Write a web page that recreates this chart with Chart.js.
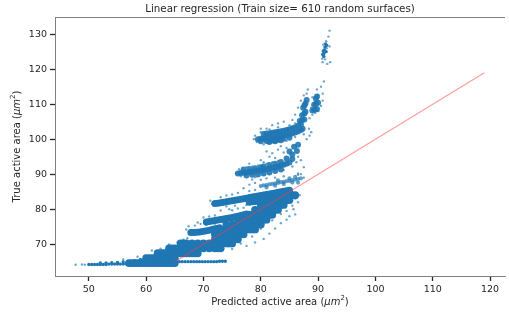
<!DOCTYPE html>
<html>
<head>
<meta charset="utf-8">
<script src="https://cdn.jsdelivr.net/npm/chart.js@4.4.1/dist/chart.umd.min.js"></script>
<style>body{margin:0;background:#fff}canvas{display:block}</style>
</head>
<body>
<canvas id="chart" width="509" height="315"></canvas>
<script>
'use strict';

// axis ranges / ticks
var xRange = [44.1, 122.6]
var yRange = [60.9, 134.9]
var tickStep = 10

// identity line (predicted == true)
var fitLine = [[65, 65], [119, 119]]

// dense main body, rows of [true area, [predicted areas]]
var bodyRows = [
	[64.6, [57, 57.5, 58, 58.5, 59, 59.5, 60, 60.5, 61, 61.5, 62, 62.5, 63, 63.5, 64, 64.5, 65]],
	[66.0, [60, 60.5, 61, 61.5, 62, 62.5, 63, 63.5, 64, 64.5, 65]],
	[67.4, [62, 62.5, 63, 63.5, 64, 64.5, 65, 65.5, 66, 66.5, 67, 67.5, 68, 68.5, 69]],
	[68.8, [64, 64.5, 65, 66, 67, 68, 69, 70, 71, 72, 72.5, 73]],
	[70.2, [66, 66.5, 67, 68, 69, 70, 71, 72, 73, 74, 74.5, 75]],
	[71.4, [72, 73, 74, 75, 75.5, 76]],
	[72.8, [72, 73, 74, 75, 76, 76.5, 77]],
	[74.2, [73, 74, 75, 76, 77, 78, 78.5, 79]],
	[75.6, [74, 75, 76, 77, 78, 79, 79.5, 80]],
	[77.0, [76, 77, 78, 79, 80, 80.5, 81]],
	[78.4, [78, 79, 80, 81, 81.5, 82]],
	[79.8, [79, 80, 81, 82, 82.5, 83]],
	[81.2, [80, 81, 82, 83, 83.5, 84]],
	[82.6, [82, 83, 84, 84.5, 85]],
	[84.0, [84, 84.5, 85, 85.5, 86]]
]

// lower streaks rising to the right (74, 78 and 82 layers)
var lowLayers = [
	[67.8, 73.3], [68.3, 73.35], [68.8, 73.4], [69.3, 73.5], [69.8, 73.6], [70.3, 73.75], [70.8, 73.9], [71.3, 74.1],
	[71.8, 74.3], [72.3, 74.5], [72.8, 74.7],
	[70.5, 76.3], [71, 76.45], [71.5, 76.6], [72, 76.75], [72.5, 76.9], [73, 77.05], [73.5, 77.2], [74, 77.35],
	[74.5, 77.5], [75, 77.65], [75.5, 77.8], [76, 78], [76.5, 78.2], [77, 78.4], [77.5, 78.6],
	[72, 81.6], [72.5, 81.7], [73, 81.8], [73.5, 81.95], [74, 82.1], [74.5, 82.25], [75, 82.4], [75.5, 82.55],
	[76, 82.7], [76.5, 82.85], [77, 83], [77.5, 83.15], [78, 83.3], [78.5, 83.45], [79, 83.6], [79.5, 83.75],
	[80, 83.9], [80.5, 84.05], [81, 84.2], [81.5, 84.35], [82, 84.5], [82.5, 84.65], [83, 84.8], [83.5, 84.95],
	[84, 85.1], [84.5, 85.25], [85, 85.4],
	[78, 82], [78.5, 82.1], [79, 82.2], [79.5, 82.35], [80, 82.5], [80.5, 82.65], [81, 82.8], [81.5, 82.95],
	[82, 83.1], [82.5, 83.25], [83, 83.4], [83.5, 83.55], [84, 83.7], [84.5, 83.85], [85, 84]
]

// fainter 86 streak
var midPoints = [
	[80, 86.6], [80.5, 86.8], [81, 86.9], [81.5, 87.1], [82, 87.2], [82.5, 87.4], [83, 87.5], [83.5, 87.7],
	[84, 87.8], [84.5, 88], [85, 88.1], [85.5, 88.3], [86, 88.4], [86.5, 88.6], [87, 88.8],
	[81, 86.2], [82.5, 86.7], [84, 87.2], [85.5, 87.6], [83, 88.2], [85, 88.8], [86, 89.2], [86.5, 87.6]
]

// upper streaks and clumps (90, 100 layers and the tops)
var highLayers = [
	[76, 90.2], [76.5, 90.3], [77, 90.4], [77.5, 90.5], [78, 90.6], [78.5, 90.7], [79, 90.8], [79.5, 90.95],
	[80, 91.1], [80.5, 91.25], [81, 91.4], [81.5, 91.6], [82, 91.8], [82.5, 92], [83, 92.2], [83.5, 92.45],
	[84, 92.7], [84.5, 93], [85, 93.3],
	[77.5, 89.6], [78.5, 89.8], [79.5, 89.9], [80.5, 90.2], [81.5, 90.5], [82.5, 90.9], [83.5, 91.3],
	[77, 91.3], [78, 91.5], [79, 91.7], [80, 92], [80.5, 92.2], [81.5, 92.6], [82.5, 93], [83.5, 93.5],
	[84.5, 94.5], [85.5, 94.3], [85.5, 95.6], [85, 96.5], [86.3, 96.6], [85.8, 97.8], [86.5, 98.4],
	[79.5, 100], [80, 100.1], [80.5, 100.2], [81, 100.3], [81.5, 100.4], [82, 100.5], [82.5, 100.6], [83, 100.75],
	[83.5, 100.9], [84, 101.05], [84.5, 101.2], [85, 101.4], [85.5, 101.6], [86, 101.9], [86.5, 102.2], [87, 102.6], [87.3, 103],
	[80.5, 101.5], [81, 101.6], [81.5, 101.7], [82, 101.8], [82.5, 101.95], [83, 102.1], [83.5, 102.25], [84, 102.4],
	[84.5, 102.6], [85, 102.8], [85.5, 103.1], [86, 103.4], [86.5, 103.8], [87, 104.2],
	[80, 99.4], [81, 99.5], [81.5, 99.2], [82, 99.6], [82.5, 99.4], [83, 99.8], [83.5, 99.7], [84, 100.1], [85, 100.4],
	[86.8, 105.2], [87.2, 105.4], [87.6, 105.6], [87.2, 106.8], [87.6, 107.3], [87.8, 107.8], [87.4, 109], [87.6, 109.6],
	[87.8, 110.2], [88, 111.2], [89, 108.2], [89.4, 108.4], [89.8, 108.6], [89.3, 109.8], [89.6, 110.1], [90, 110.4],
	[89.6, 111.6], [89.8, 112.2]
]

// thin streaks (tail at the bottom, line at 65, top clump)
var thinPoints = [
	[50, 64.2], [50.5, 64.2], [51, 64.2], [51.5, 64.2], [52, 64.2], [52.5, 64.2], [53, 64.2], [53.5, 64.3],
	[54, 64.3], [54.5, 64.3], [55, 64.3], [55.5, 64.3], [56, 64.3], [56.5, 64.4], [57, 64.4], [57.5, 64.4],
	[52, 64.6], [53, 64.6], [54, 64.7], [55, 64.8], [56, 64.9], [57, 65.0], [58, 65.3], [59, 65.6],
	[65.8, 65.0], [66.3, 65.0], [66.8, 65.0], [67.3, 65.0], [67.8, 65.0], [68.3, 65.0], [68.8, 65.0], [69.3, 65.0],
	[69.8, 65.0], [70.3, 65.0], [70.8, 65.0], [71.3, 65.0], [71.8, 65.0], [72.3, 65.0], [72.8, 65.1], [73.3, 65.1], [73.8, 65.1],
	[91, 123.6], [91, 124.5], [91.1, 125.5], [91.2, 126.3], [91.3, 127.2], [91.4, 125], [90.9, 125.2], [91.5, 126.8], [90.8, 124.2]
]

// loose points around the edges
var loosePoints = [
	[47.7, 64.1], [48.8, 64.2], [49.3, 64.1],
	[56, 65.6], [58.5, 66.4], [61, 68.2], [62.5, 68.7], [64, 69.9], [65.5, 70.5], [66.5, 71.3], [67.2, 71.7],
	[67, 74.2], [67.5, 73.6], [67.4, 75.1], [68.5, 75.3], [69.5, 75.8], [69, 76.2], [70, 77.6], [71, 77.9], [72, 78.2],
	[73, 79.6], [74.5, 80], [75, 79.7], [76, 80.2], [77, 80.4],
	[71.5, 81.5], [71.2, 82.4], [73, 83.4], [74, 83.9], [75, 84.2], [76, 84.6], [78, 85.2], [79, 85.5],
	[77, 86], [78, 87], [79, 87.5], [80, 88.4], [81, 88.8], [78.5, 88.5], [82.5, 89], [84, 89.4], [86.5, 90.2],
	[75.7, 90.2], [76.2, 91.4], [77.5, 92], [78.5, 92.2], [79.5, 92.5], [81, 93], [82, 93.4], [83, 93.8],
	[80, 94], [81.5, 95], [82, 96], [83, 97], [82.5, 94.6], [81, 96.5], [84, 96.2], [84.5, 97.5],
	[78.8, 100], [79, 101], [79.3, 99.2], [80, 102], [81, 103], [82, 104], [83, 104.5], [84, 105],
	[80.5, 98.5], [82.5, 99], [83.5, 98], [81.5, 98.8], [84.5, 99.5],
	[86.5, 95], [87, 94], [87.5, 92], [87, 90], [86.5, 89.8], [87.5, 89], [86.8, 84], [86.5, 82], [85.7, 80],
	[86, 78.5], [85, 78], [84.5, 77], [83.5, 76], [82.5, 74.5], [81.5, 73], [80.5, 71.5], [79, 70.5], [77.5, 69.5],
	[75, 68.6], [76.5, 70.2], [78.5, 72.2], [80, 74.4], [82, 76.8], [83.5, 78.6], [84.5, 79.5], [85.5, 81], [86, 83],
	[88, 100], [88.5, 101], [88.4, 103], [88.8, 102], [86, 107], [85.5, 105.5], [86.5, 109], [87, 111], [87.5, 112.5],
	[88, 113], [88.2, 114.2], [89, 107], [89.5, 107.5], [90, 108], [90.5, 109.5], [90.8, 113], [90.5, 115], [91, 116.5],
	[89.8, 114.2], [88.8, 109], [90.8, 111], [89, 112], [90, 112.6], [88.5, 106], [86, 104.5],
	[90.7, 123], [91.5, 126], [90.9, 127], [91.4, 128], [91.8, 129.3], [92, 131], [90.8, 122], [91.6, 121.5],
	[92.1, 122], [92, 126.5], [91.2, 122.8],
	[74, 80.8], [75.5, 81], [77.5, 81.2], [73.5, 76.2], [75, 76.6], [70.5, 75.5], [72, 75.8],
	[76.5, 89.4], [79, 89.1], [84, 91.2], [85.5, 92.2], [86.2, 93.4], [78, 93], [80.5, 93.4],
	[80, 103], [81.5, 102.8], [83, 103.4], [85, 104], [86, 100.6], [87.5, 101.4]
]

var titleText = 'Linear regression (Train size= 610 random surfaces)'
var xLabel = ['Predicted active area (', 'μm', '2', ')']
var yLabel = ['True active area (', 'μm', '2', ')']

var FONT = "'DejaVu Sans', sans-serif"
var INK = '#262626'
var BLUE = 'rgb(31,119,180)'

const toXY = (pts) => pts.map((p) => ({x: p[0], y: p[1]}))

var bodyPoints = []
bodyRows.forEach((row) => row[1].forEach((x) => bodyPoints.push([x, row[0]])))

// draws a label with italic unit and superscript
function drawLabel(ctx, parts, size) {
	var fN = size + 'px ' + FONT, fI = 'italic ' + size + 'px ' + FONT, fS = (size * 0.7) + 'px ' + FONT
	var fonts = [fN, fI, fS, fN]
	var widths = parts.map((t, i) => { ctx.font = fonts[i]; return ctx.measureText(t).width })
	var total = widths.reduce((a, b) => a + b, 0)
	var x = -total / 2
	parts.forEach((t, i) => {
		ctx.font = fonts[i]
		ctx.fillText(t, x, i == 2 ? -size * 0.35 : 0)
		x += widths[i]
	})
}

var textPlugin = {
	id: 'texts',
	afterDraw(chart) {
		var ctx = chart.ctx, a = chart.chartArea
		ctx.save()
		// top spine
		ctx.strokeStyle = '#808080'
		ctx.lineWidth = 1
		ctx.beginPath()
		ctx.moveTo(a.left, a.top + 0.5)
		ctx.lineTo(a.right, a.top + 0.5)
		ctx.stroke()

		ctx.fillStyle = INK
		ctx.textAlign = 'left'
		ctx.textBaseline = 'middle'
		ctx.font = '10.3px ' + FONT
		var tw = ctx.measureText(titleText).width
		ctx.fillText(titleText, (a.left + a.right) / 2 - tw / 2, 9)

		ctx.translate((a.left + a.right) / 2, 302)
		drawLabel(ctx, xLabel, 10)
		ctx.restore()

		ctx.save()
		ctx.fillStyle = INK
		ctx.textAlign = 'left'
		ctx.textBaseline = 'middle'
		ctx.translate(17, (a.top + a.bottom) / 2)
		ctx.rotate(-Math.PI / 2)
		drawLabel(ctx, yLabel, 10)
		ctx.restore()
	}
}

function axis(range, fit) {
	return {
		type: 'linear',
		min: range[0],
		max: range[1],
		afterFit: fit,
		border: {color: '#808080', width: 1},
		grid: {drawOnChartArea: false, drawTicks: true, tickLength: 5, tickColor: INK, tickWidth: 1.3},
		ticks: {stepSize: tickStep, includeBounds: false, color: INK, padding: 3, font: {family: FONT, size: 9.5}}
	}
}

new Chart(document.getElementById('chart').getContext('2d'), {
	type: 'scatter',
	data: {
		datasets: [
			{type: 'line', data: toXY(fitLine), borderColor: 'rgba(255,60,60,0.5)', borderWidth: 1.2, pointRadius: 0, order: 0},
			{data: toXY(loosePoints), backgroundColor: 'rgba(31,119,180,0.65)', borderWidth: 0, pointRadius: 1.2, order: 1},
			{data: toXY(thinPoints), backgroundColor: BLUE, borderWidth: 0, pointRadius: 1.7, order: 2},
			{data: toXY(midPoints), backgroundColor: 'rgba(31,119,180,0.7)', borderWidth: 0, pointRadius: 2.1, order: 3},
			{data: toXY(highLayers), backgroundColor: 'rgba(31,119,180,0.9)', borderWidth: 0, pointRadius: 3.0, order: 4},
			{data: toXY(lowLayers), backgroundColor: BLUE, borderWidth: 0, pointRadius: 3.5, order: 5},
			{data: toXY(bodyPoints), backgroundColor: BLUE, borderWidth: 0, pointRadius: 3.9, order: 6}
		]
	},
	options: {
		responsive: false,
		animation: false,
		devicePixelRatio: 1,
		layout: {padding: {top: 17, left: 0, right: 0, bottom: 0}},
		plugins: {legend: {display: false}, tooltip: {enabled: false}},
		scales: {
			x: axis(xRange, (s) => { s.height = 39 }),
			y: axis(yRange, (s) => { s.width = 55 })
		}
	},
	plugins: [textPlugin]
})
</script>
</body>
</html>
